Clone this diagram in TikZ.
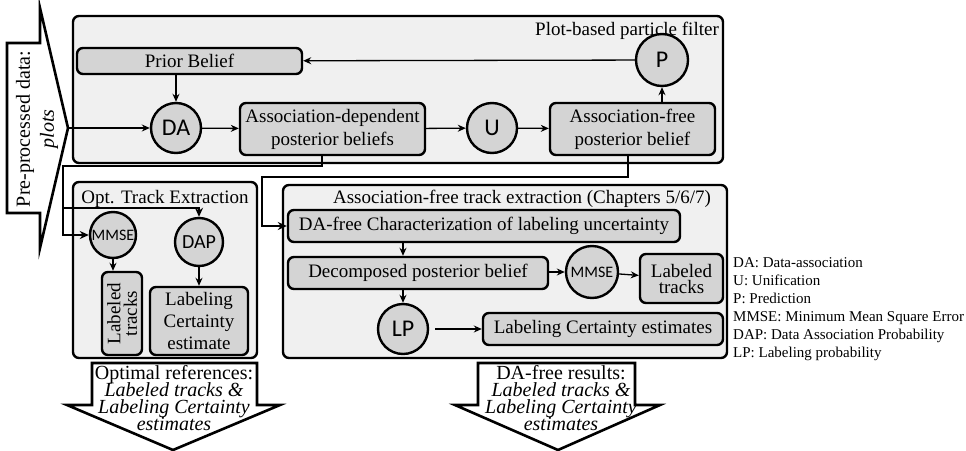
\documentclass[tikz,border=0pt]{standalone}
\usepackage{fontspec}
\setmainfont{Liberation Serif}
\newfontfamily\carlitofont{Carlito}
\usetikzlibrary{arrows.meta}
\AtBeginDocument{\lineskiplimit=-100pt}
\definecolor{boxgray}{RGB}{212,212,212}
\definecolor{contgray}{RGB}{240,240,240}
\begin{document}
\begin{tikzpicture}[x=1pt,y=-1pt,
  cont/.style={draw, line width=2.4pt, rounded corners=6pt, fill=contgray, inner sep=0pt},
  gbox/.style={draw, line width=2.4pt, fill=boxgray, rounded corners=6pt, inner sep=0pt},
  btext/.style={inner sep=0pt, align=center, font=\rmfamily\fontsize{19}{23}\selectfont},
  circ/.style={circle, draw, line width=2.4pt, fill=boxgray, inner sep=0pt, font=\carlitofont\fontsize{24}{24}\selectfont},
  ttl/.style={inner sep=0pt, font=\rmfamily\fontsize{19}{23}\selectfont},
  arr/.style={-{Stealth[length=8pt,width=7pt]}, line width=1.3pt},
  tarr/.style={-{Stealth[length=9pt,width=8pt]}, line width=2.8pt},
  blk/.style={draw, line width=2.6pt, fill=white, line join=miter},
  btxt/.style={inner sep=0pt, align=center, font=\rmfamily\fontsize{20}{17}\selectfont}
]
\useasboundingbox (0,0) rectangle (966,450);

% input block arrow
\draw[blk] (7,43) -- (40,43) -- (40,8) -- (68,128) -- (40,248) -- (40,213) -- (7,213) -- cycle;
\coordinate (tip) at (68,128);
\node[btxt, rotate=90, font=\rmfamily\fontsize{20}{24}\selectfont] (pre) at (37,129) {Pre-processed data:\\\textit{plots}};

% top container
\node[cont, minimum width=650pt, minimum height=147pt] (pf) at (398,89.5) {};
\node[ttl, anchor=base east] (pft) at (719,35) {Plot-based particle filter};

\node[gbox, minimum width=225pt, minimum height=26pt] (prior) at (189.5,61) {};
\node[btext] (priorT) at (prior.center) {Prior Belief};
\node[circ, minimum size=50pt] (DA) at (176,128) {DA};
\node[gbox, minimum width=185pt, minimum height=52pt] (AD) at (332.5,129) {};
\node[btext] (ADT) at (AD.center) {Association-dependent\\posterior beliefs};
\node[circ, minimum size=50pt] (U) at (492,128) {U};
\node[gbox, minimum width=165pt, minimum height=52pt] (AF) at (632.5,129) {};
\node[btext] (AFT) at (AF.center) {Association-free\\posterior belief};
\node[circ, minimum size=52pt] (P) at (662,60) {P};

\draw[arr] (tip) -- (DA);
\draw[arr] (DA) -- (AD);
\draw[arr] (AD) -- (U);
\draw[arr] (U) -- (AF);
\draw[arr] (AF.north -| P.south) -- (P.south);
\draw[arr] (P) -- (prior);
\draw[arr] (DA.north |- prior.south) -- (DA.north);

% optimal track extraction
\node[cont, minimum width=184pt, minimum height=176pt] (opt) at (165,270) {};
\node[ttl, anchor=base] (optt) at (165,203) {Opt. Track Extraction};
\node[circ, minimum size=46pt, font=\carlitofont\fontsize{16}{16}\selectfont] (M1) at (113,235) {MMSE};
\node[circ, minimum size=48pt, font=\carlitofont\fontsize{20}{20}\selectfont] (DAP) at (199,242) {DAP};
\node[gbox, minimum width=40pt, minimum height=83pt] (LT1) at (122,313.5) {};
\node[btext, rotate=90, font=\rmfamily\fontsize{19}{16.5}\selectfont] (LT1T) at (LT1.center) {Labeled\\tracks};
\node[gbox, minimum width=98pt, minimum height=68pt] (LC1) at (199,321) {};
\node[btext, font=\rmfamily\fontsize{19}{22}\selectfont] (LC1T) at (LC1.center) {Labeling\\Certainty\\estimate};
\draw[arr] (M1.south) -- (M1.south |- LT1.north);
\draw[arr] (DAP) -- (LC1);

% association-free track extraction
\node[cont, minimum width=444pt, minimum height=173pt] (aft) at (505,271.5) {};
\node[ttl, anchor=base] (aftt) at (522,203) {Association-free track extraction (Chapters 5/6/7)};
\node[gbox, minimum width=392pt, minimum height=32pt] (DAF) at (484,226) {};
\node[btext] (DAFT) at (DAF.center) {DA-free Characterization of labeling uncertainty};
\node[gbox, minimum width=260pt, minimum height=32pt] (DPB) at (418,273) {};
\node[btext] (DPBT) at (DPB.center) {Decomposed posterior belief};
\node[circ, minimum size=52pt, font=\carlitofont\fontsize{16}{16}\selectfont] (M2) at (592,272) {MMSE};
\node[gbox, minimum width=83pt, minimum height=49pt] (LT2) at (681.5,278.5) {};
\node[btext, font=\rmfamily\fontsize{19}{16}\selectfont] (LT2T) at (LT2.center) {Labeled\\tracks};
\node[circ, minimum size=50pt] (LP) at (403,329) {LP};
\node[gbox, minimum width=240pt, minimum height=32pt] (LC2) at (603,329) {};
\node[btext] (LC2T) at (LC2.center) {Labeling Certainty estimates};
\draw[arr] (LP.north |- DAF.south) -- (LP.north |- DPB.north);
\draw[arr] (LP.north |- DPB.south) -- (LP.north);
\draw[arr] (DPB.east |- M2.west) -- (M2.west);
\draw[arr] (M2) -- (LT2);
\draw[arr, shorten <=6pt] (LP) -- (LC2);

% thick connectors
\coordinate (j1) at (63,166);
\coordinate (j2) at (63,208);
\coordinate (j3) at (262,177);
\draw[tarr] ([xshift=-10.5pt]AD.south) |- (j1) |- (M1.west);
\draw[tarr] (j2) -| (DAP.north);
\draw[tarr] ([xshift=-4.5pt]AF.south) |- (j3) |- (DAF.west);

% legend
\node[inner sep=0pt, anchor=north west, align=left, font=\rmfamily\fontsize{15}{18}\selectfont] (leg) at (733,257)
 {DA: Data-association\\U: Unification\\P: Prediction\\MMSE: Minimum Mean Square Error\\DAP: Data Association Probability\\LP: Labeling probability};

% output block arrows
\draw[blk] (92,363) -- (257,363) -- (257,405) -- (280,405) -- (173,450) -- (67,405) -- (92,405) -- cycle;
\node[btxt] (out1) at (174,398) {Optimal references:\\\textit{Labeled tracks \&}\\\textit{Labeling Certainty}\\\textit{estimates}};
\draw[blk] (478,363) -- (635,363) -- (635,405) -- (660,405) -- (558,450) -- (455,405) -- (478,405) -- cycle;
\node[btxt] (out2) at (561,398) {DA-free results:\\\textit{Labeled tracks \&}\\\textit{Labeling Certainty}\\\textit{estimates}};
\end{tikzpicture}
\end{document}
